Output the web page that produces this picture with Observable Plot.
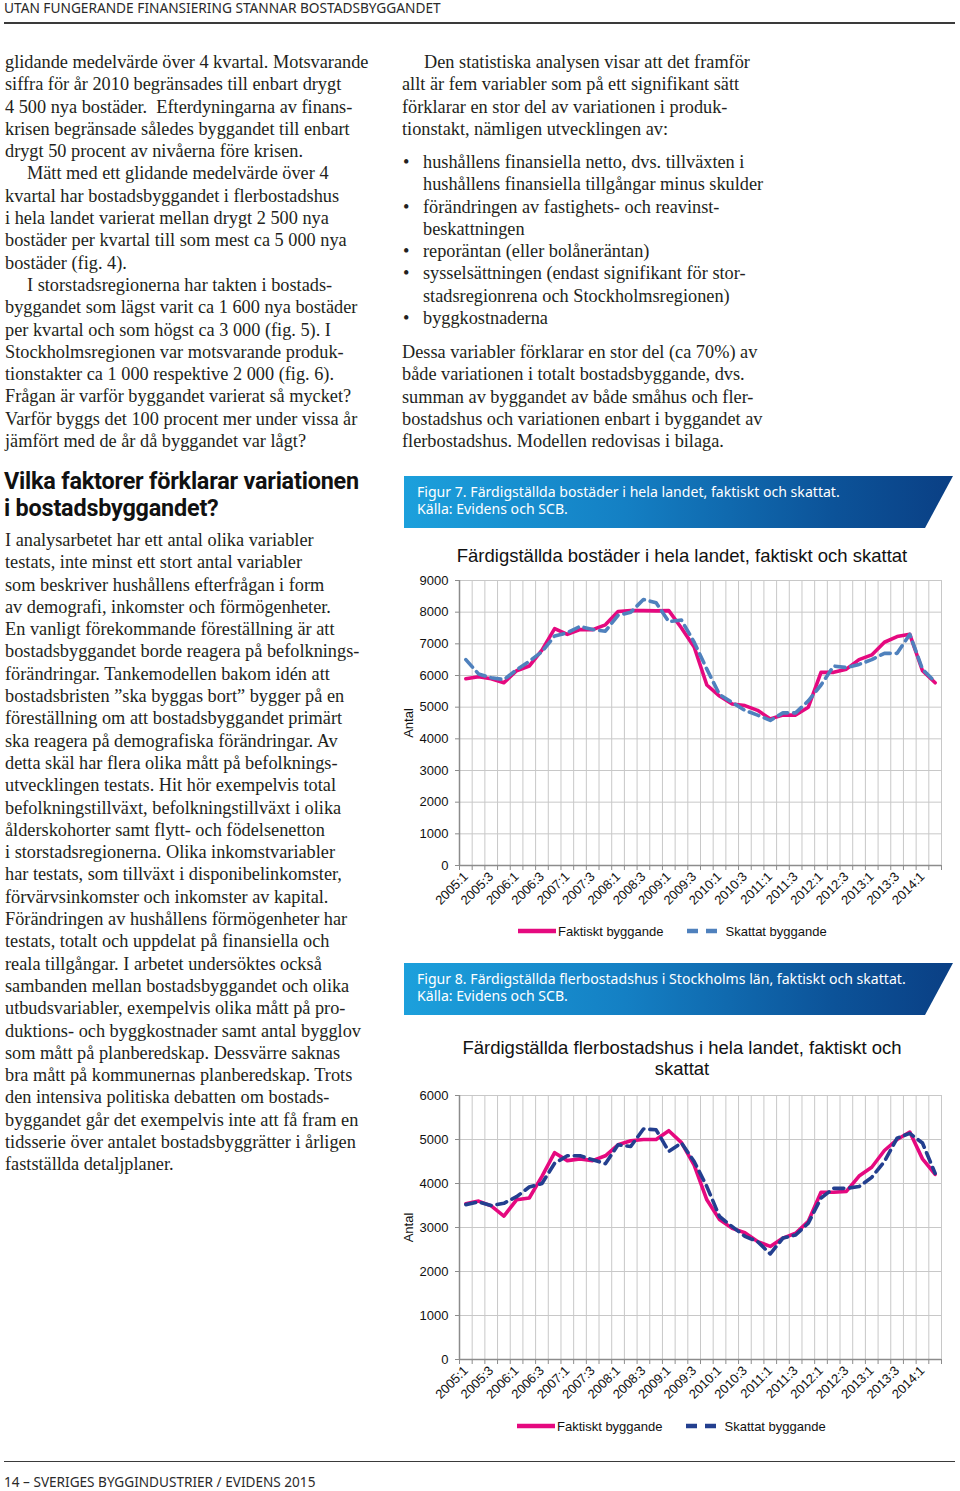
<!DOCTYPE html>
<html><head><meta charset="utf-8">
<script src="https://cdn.jsdelivr.net/npm/d3@7"></script>
<script src="https://cdn.jsdelivr.net/npm/@observablehq/plot@0.6"></script>
<style>
html,body{margin:0;padding:0;background:#fff;}
body{width:960px;height:1491px;position:relative;overflow:hidden;}
.abs{position:absolute;}
.serif{font-family:"Liberation Serif",serif;font-size:18.3px;line-height:22.3px;color:#231f20;white-space:nowrap;}
.ind{padding-left:22px;}
.bul{position:relative;padding-left:21px;}
.bul::before{content:"•";position:absolute;left:1px;top:0;}
.sans{font-family:"Noto Sans",sans-serif;white-space:nowrap;}
.banner{position:absolute;left:404px;width:549px;height:52px;
 background:linear-gradient(90deg,#1ca0dc 0%,#1480c4 40%,#0c5399 78%,#0a3f84 100%);
 clip-path:polygon(0 0,100% 0,calc(100% - 28px) 100%,0 100%);}
.banner div{position:absolute;left:13px;top:7px;color:#fff;font-family:"Noto Sans",sans-serif;font-size:14.1px;line-height:17px;white-space:nowrap;}
.ctitle{position:absolute;font-family:"Liberation Sans",Arial,sans-serif;font-size:18.5px;line-height:21px;color:#111;text-align:center;white-space:nowrap;}
.legend{position:absolute;font-family:"Liberation Sans",Arial,sans-serif;font-size:13px;color:#111;white-space:nowrap;display:flex;align-items:center;}
.legend svg{display:block;}
</style></head><body>

<div class="abs sans" style="left:4px;top:0px;font-size:13.7px;line-height:16px;color:#2a2a2a;">UTAN FUNGERANDE FINANSIERING STANNAR BOSTADSBYGGANDET</div>
<div class="abs" style="left:4px;top:22px;width:951px;height:1.5px;background:#3a3a3a;"></div>

<div class="abs serif" style="left:5px;top:51px;">
glidande medelvärde över 4 kvartal. Motsvarande<br>
siffra för år 2010 begränsades till enbart drygt<br>
4 500 nya bostäder.&nbsp; Efterdyningarna av finans-<br>
krisen begränsade således byggandet till enbart<br>
drygt 50 procent av nivåerna före krisen.<br>
<span class="ind">Mätt med ett glidande medelvärde över 4</span><br>
kvartal har bostadsbyggandet i flerbostadshus<br>
i hela landet varierat mellan drygt 2 500 nya<br>
bostäder per kvartal till som mest ca 5 000 nya<br>
bostäder (fig. 4).<br>
<span class="ind">I storstadsregionerna har takten i bostads-</span><br>
byggandet som lägst varit ca 1 600 nya bostäder<br>
per kvartal och som högst ca 3 000 (fig. 5). I<br>
Stockholmsregionen var motsvarande produk-<br>
tionstakter ca 1 000 respektive 2 000 (fig. 6).<br>
Frågan är varför byggandet varierat så mycket?<br>
Varför byggs det 100 procent mer under vissa år<br>
jämfört med de år då byggandet var lågt?
</div>

<div class="abs" style="left:4px;top:468px;font-family:Roboto,sans-serif;font-weight:700;font-size:23.4px;line-height:27px;color:#111;white-space:nowrap;letter-spacing:-0.2px;">
Vilka faktorer förklarar variationen<br>i bostadsbyggandet?</div>

<div class="abs serif" style="left:5px;top:529px;">
I analysarbetet har ett antal olika variabler<br>
testats, inte minst ett stort antal variabler<br>
som beskriver hushållens efterfrågan i form<br>
av demografi, inkomster och förmögenheter.<br>
En vanligt förekommande föreställning är att<br>
bostadsbyggandet borde reagera på befolknings-<br>
förändringar. Tankemodellen bakom idén att<br>
bostadsbristen ”ska byggas bort” bygger på en<br>
föreställning om att bostadsbyggandet primärt<br>
ska reagera på demografiska förändringar. Av<br>
detta skäl har flera olika mått på befolknings-<br>
utvecklingen testats. Hit hör exempelvis total<br>
befolkningstillväxt, befolkningstillväxt i olika<br>
ålderskohorter samt flytt- och födelsenetton<br>
i storstadsregionerna. Olika inkomstvariabler<br>
har testats, som tillväxt i disponibelinkomster,<br>
förvärvsinkomster och inkomster av kapital.<br>
Förändringen av hushållens förmögenheter har<br>
testats, totalt och uppdelat på finansiella och<br>
reala tillgångar. I arbetet undersöktes också<br>
sambanden mellan bostadsbyggandet och olika<br>
utbudsvariabler, exempelvis olika mått på pro-<br>
duktions- och byggkostnader samt antal bygglov<br>
som mått på planberedskap. Dessvärre saknas<br>
bra mått på kommunernas planberedskap. Trots<br>
den intensiva politiska debatten om bostads-<br>
byggandet går det exempelvis inte att få fram en<br>
tidsserie över antalet bostadsbyggrätter i årligen<br>
fastställda detaljplaner.
</div>

<div class="abs serif" style="left:402px;top:51px;">
<span class="ind">Den statistiska analysen visar att det framför</span><br>
allt är fem variabler som på ett signifikant sätt<br>
förklarar en stor del av variationen i produk-<br>
tionstakt, nämligen utvecklingen av:
</div>
<div class="abs serif" style="left:402px;top:151px;">
<div class="bul">hushållens finansiella netto, dvs. tillväxten i<br>hushållens finansiella tillgångar minus skulder</div>
<div class="bul">förändringen av fastighets- och reavinst-<br>beskattningen</div>
<div class="bul">reporäntan (eller bolåneräntan)</div>
<div class="bul">sysselsättningen (endast signifikant för stor-<br>stadsregionrena och Stockholmsregionen)</div>
<div class="bul">byggkostnaderna</div>
</div>
<div class="abs serif" style="left:402px;top:341px;">
Dessa variabler förklarar en stor del (ca 70%) av<br>
både variationen i totalt bostadsbyggande, dvs.<br>
summan av byggandet av både småhus och fler-<br>
bostadshus och variationen enbart i byggandet av<br>
flerbostadshus. Modellen redovisas i bilaga.
</div>

<div class="banner" style="top:476px;"><div>Figur 7. Färdigställda bostäder i hela landet, faktiskt och skattat.<br>Källa: Evidens och SCB.</div></div>
<div class="banner" style="top:963px;"><div>Figur 8. Färdigställda flerbostadshus i Stockholms län, faktiskt och skattat.<br>Källa: Evidens och SCB.</div></div>

<div class="ctitle" style="left:400px;width:564px;top:545px;">Färdigställda bostäder i hela landet, faktiskt och skattat</div>
<div class="ctitle" style="left:400px;width:564px;top:1037px;">Färdigställda flerbostadshus i hela landet, faktiskt och<br>skattat</div>

<div id="chart1" class="abs" style="left:400px;top:570px;"></div>
<div id="chart2" class="abs" style="left:400px;top:1085px;"></div>

<div class="legend" style="left:517px;top:923px;">
<svg width="40" height="16"><line x1="1" y1="8" x2="39" y2="8" stroke="#e5097f" stroke-width="4.5"/></svg>
<span style="margin-left:1px;">Faktiskt byggande</span>
<svg width="40" height="16" style="margin-left:22px;"><line x1="1" y1="8" x2="31" y2="8" stroke="#4f81bd" stroke-width="4.5" stroke-dasharray="11,8"/></svg>
<span style="margin-left:0px;">Skattat byggande</span>
</div>
<div class="legend" style="left:516px;top:1418px;">
<svg width="40" height="16"><line x1="1" y1="8" x2="39" y2="8" stroke="#e5097f" stroke-width="4.5"/></svg>
<span style="margin-left:1px;">Faktiskt byggande</span>
<svg width="40" height="16" style="margin-left:22px;"><line x1="1" y1="8" x2="31" y2="8" stroke="#233f8f" stroke-width="4.5" stroke-dasharray="11,8"/></svg>
<span style="margin-left:0px;">Skattat byggande</span>
</div>

<div class="abs" style="left:4px;top:1461px;width:951px;height:1px;background:#3a3a3a;"></div>
<div class="abs sans" style="left:4px;top:1474px;font-size:13.6px;line-height:16px;color:#2a2a2a;">14 – SVERIGES BYGGINDUSTRIER / EVIDENS 2015</div>

<script>
const quarters = ["2005:1","2005:2","2005:3","2005:4","2006:1","2006:2","2006:3","2006:4",
  "2007:1","2007:2","2007:3","2007:4","2008:1","2008:2","2008:3","2008:4",
  "2009:1","2009:2","2009:3","2009:4","2010:1","2010:2","2010:3","2010:4",
  "2011:1","2011:2","2011:3","2011:4","2012:1","2012:2","2012:3","2012:4",
  "2013:1","2013:2","2013:3","2013:4","2014:1","2014:2"];

const faktisktTotal = [5900,5960,5900,5770,6150,6300,6800,7480,7300,7450,7450,7600,8020,8050,8050,8040,
  8050,7500,6900,5700,5350,5100,5050,4900,4630,4750,4750,5000,6100,6100,6200,6500,6650,7050,7230,7300,6150,5770];
const skattatTotal = [6500,6050,5930,5870,6180,6450,6750,7250,7350,7550,7450,7400,7900,8000,8400,8300,
  7700,7750,7050,6200,5400,5150,4900,4750,4580,4820,4820,5200,5700,6300,6250,6350,6500,6700,6700,7300,6200,5800];

const faktisktFler = [3540,3600,3490,3260,3630,3670,4160,4700,4520,4560,4520,4630,4880,4970,5000,5000,
  5200,4930,4420,3630,3180,2980,2880,2680,2570,2760,2870,3140,3800,3800,3820,4170,4370,4750,5000,5170,4560,4210];
const skattatFler = [3520,3580,3500,3550,3700,3920,4000,4460,4630,4630,4540,4450,4880,4840,5240,5220,
  4730,4920,4500,3930,3250,3020,2800,2680,2400,2760,2830,3100,3670,3890,3890,3930,4140,4500,5030,5140,4920,4230];

const yTicksTotal = [0,1000,2000,3000,4000,5000,6000,7000,8000,9000];
const yTicksFler = [0,1000,2000,3000,4000,5000,6000];

const pink = "#e5097f";

function chart(faktiskt, skattat, yTicks, plotHeight, blue) {
  const data = quarters.map((q, i) => ({i, q, f: faktiskt[i], s: skattat[i]}));
  const bounds = quarters.map((q, i) => i - 0.5).concat([quarters.length - 0.5]);
  const labelIdx = quarters.map((q, i) => i).filter(i => i % 2 === 0);
  const yMax = yTicks[yTicks.length - 1];
  const axisCol = "#8c8c8c";
  return Plot.plot({
    width: 560,
    height: plotHeight + 70,
    marginLeft: 59, marginRight: 19, marginTop: 10, marginBottom: 60,
    style: {fontFamily: "'Liberation Sans', Arial, sans-serif", fontSize: "13px", color: "#111", background: "transparent", overflow: "visible"},
    x: {type: "linear", domain: [-0.5, quarters.length - 0.5]},
    y: {domain: [0, yMax]},
    marks: [
      Plot.gridX(bounds.slice(1), {stroke: "#c8c8c8", strokeOpacity: 1, strokeWidth: 1}),
      Plot.gridY(yTicks.slice(1), {stroke: "#c8c8c8", strokeOpacity: 1, strokeWidth: 1}),
      Plot.axisY(yTicks, {tickSize: 4, tickPadding: 7, stroke: axisCol, tickFormat: d => String(d), label: "Antal", labelAnchor: "center", labelArrow: "none", labelOffset: 56}),
      Plot.axisX(bounds, {tickSize: 5, tickFormat: () => "", stroke: axisCol, label: null}),
      Plot.axisX(labelIdx, {tickSize: 0, tickPadding: 9, tickRotate: -45, tickFormat: i => quarters[i], label: null}),
      Plot.ruleX([-0.5], {stroke: axisCol, strokeWidth: 1.5}),
      Plot.ruleY([0], {stroke: axisCol, strokeWidth: 1.5}),
      Plot.line(data, {x: "i", y: "f", stroke: pink, strokeWidth: 3.6}),
      Plot.line(data, {x: "i", y: "s", stroke: blue, strokeWidth: 3.6, strokeDasharray: "10,6"})
    ]
  });
}

document.getElementById("chart1").appendChild(chart(faktisktTotal, skattatTotal, yTicksTotal, 285, "#4f81bd"));
document.getElementById("chart2").appendChild(chart(faktisktFler, skattatFler, yTicksFler, 264, "#233f8f"));
</script>
</body></html>
